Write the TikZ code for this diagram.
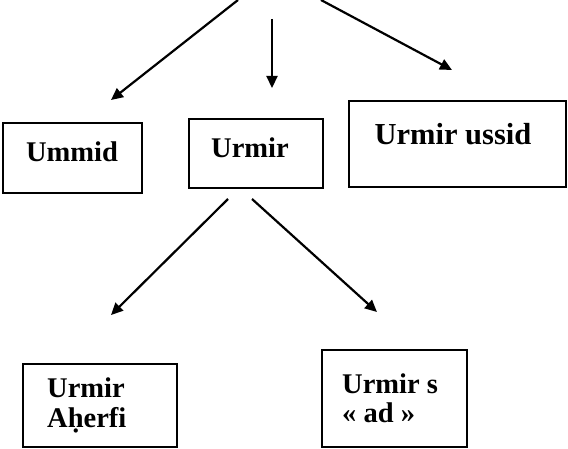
\documentclass[tikz,border=0pt]{standalone}
\usepackage{fontspec}
\setmainfont{Liberation Serif}
\usetikzlibrary{arrows.meta}
\tikzset{
  box/.style={draw, line width=1.9pt, inner sep=0pt},
  txt/.style={font=\fontsize{28.5}{30}\selectfont\bfseries, inner sep=0pt, anchor=base},
  txtl/.style={txt, anchor=base west},
  arr/.style={line width=2.2pt, -{Triangle[length=12pt,width=11pt]}}
}
\begin{document}
\begin{tikzpicture}[x=1pt,y=-1pt]
\useasboundingbox (0,0) rectangle (568,449);
\node[box, minimum width=139pt, minimum height=70pt] (bummid) at (72.5,158){};
\node[txt] (tummid) at (72,162){Ummid};
\node[box, minimum width=134pt, minimum height=69pt] (burmir) at (256,153.5){};
\node[txt] (turmir) at (250,158){Urmir};
\node[box, minimum width=217pt, minimum height=86pt] (bussid) at (457.5,144){};
\node[txt, font=\fontsize{30.5}{32}\selectfont\bfseries] (tussid) at (453,145){Urmir ussid};
\node[box, minimum width=154pt, minimum height=83pt] (baherfi) at (100,405.5){};
\node[txtl] (taherfi1) at (47,397){Urmir};
\node[txtl] (taherfi2) at (47,427){Aḥerfi};
\node[box, minimum width=145pt, minimum height=97pt] (burmirs) at (394.5,398.5){};
\node[txtl] (turmirs1) at (342,393){Urmir s};
\node[txtl] (turmirs2) at (342,422){« ad »};
\coordinate (s1) at (238,0);
\coordinate (e1) at (111,100);
\coordinate (s2) at (272,19);
\coordinate (e2) at (272,88);
\coordinate (s3) at (321,0);
\coordinate (e3) at (452,70);
\coordinate (s4) at (228,199);
\coordinate (e4) at (111,315);
\coordinate (s5) at (252,199);
\coordinate (e5) at (377,312);
\draw[arr](s1) -- (e1);
\draw[arr](s2) -- (e2);
\draw[arr](s3) -- (e3);
\draw[arr](s4) -- (e4);
\draw[arr](s5) -- (e5);
\end{tikzpicture}
\end{document}
